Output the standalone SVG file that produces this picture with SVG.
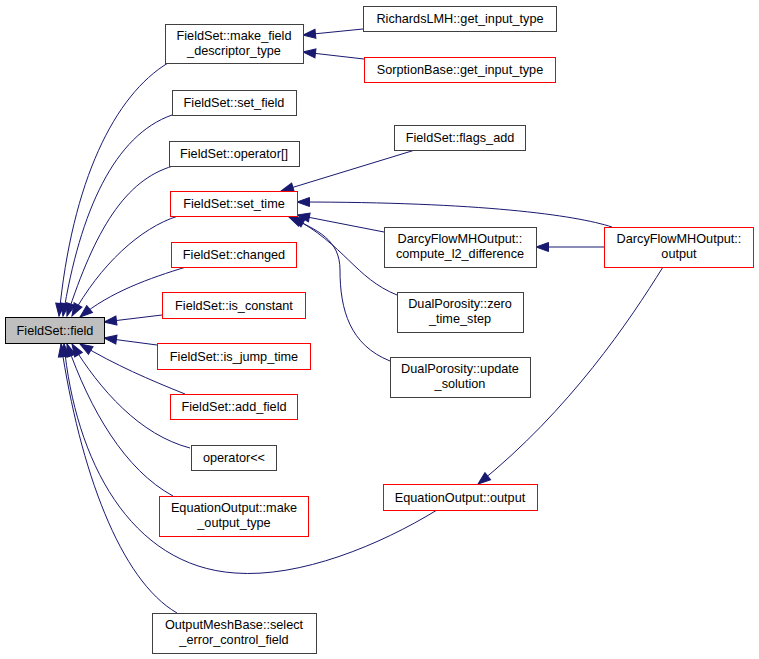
<svg xmlns="http://www.w3.org/2000/svg" width="759" height="659" viewBox="0 0 759 659">
<style>
.n rect{fill:#ffffff;stroke:#404040;stroke-width:1}
.n.r rect{stroke:#ff0000}
.n.h rect{fill:#bfbfbf;stroke:#000000}
.n text{font-family:"Liberation Sans",Arial,Helvetica,sans-serif;font-size:12.7px;fill:#000000;text-anchor:middle}
#edges path{fill:none;stroke:#191970;stroke-width:1;marker-end:url(#arr)}
</style>
<defs>
<marker id="arr" markerUnits="userSpaceOnUse" markerWidth="16" markerHeight="12" refX="13" refY="5.5" orient="auto" overflow="visible">
<path d="M0.5,1 L13,5.5 L0.5,10 z" fill="#191970" stroke="#191970" stroke-width="1"/>
</marker>
</defs>
<rect x="0" y="0" width="759" height="659" fill="#ffffff"/>
<g id="edges">
<path d="M168,63 C115,95 72,180 59,316"/>
<path d="M172,115 C115,135 80,210 63,316"/>
<path d="M173,166 C125,180 95,230 67,316"/>
<path d="M178,216 C140,228 100,265 72,316"/>
<path d="M186,267 C150,278 110,292 80,317"/>
<path d="M162,315 L104,322"/>
<path d="M157,345 L104,338"/>
<path d="M185,394 C150,380 115,365 80,344"/>
<path d="M190,448 C140,435 100,390 72,344"/>
<path d="M173,496 C125,470 90,410 67,344"/>
<path d="M437,510 C380,545 300,578 235,573 C130,566 75,460 64,344"/>
<path d="M177,613 C120,580 80,470 61,344"/>
<path d="M363,29 L303,35"/>
<path d="M364,59 L303,52"/>
<path d="M415,150 L281,191"/>
<path d="M612,227 C575,215 480,202 297,202"/>
<path d="M384,232 L297,215"/>
<path d="M397,295 C355,278 345,245 292,217"/>
<path d="M390,361 C350,345 340,310 340,270 C340,240 318,230 289,217"/>
<path d="M604,247 L536,247"/>
<path d="M663,267 C630,320 570,410 478,484"/>
</g>
<g id="field" class="n h"><rect x="5.5" y="317.5" width="99" height="26"/><text x="55" y="335">FieldSet::field</text></g>
<g id="make_field_descriptor_type" class="n"><rect x="165.5" y="24.5" width="138" height="39"/><text x="234" y="39.5">FieldSet::make_field</text><text x="234" y="54.5">_descriptor_type</text></g>
<g id="set_field" class="n"><rect x="172.5" y="90.5" width="124" height="25"/><text x="234" y="107">FieldSet::set_field</text></g>
<g id="operator_index" class="n"><rect x="169.5" y="141.5" width="130" height="25"/><text x="234" y="158">FieldSet::operator[]</text></g>
<g id="set_time" class="n r"><rect x="170.5" y="191.5" width="127" height="25"/><text x="234" y="208">FieldSet::set_time</text></g>
<g id="changed" class="n r"><rect x="171.5" y="242.5" width="125" height="25"/><text x="234" y="259">FieldSet::changed</text></g>
<g id="is_constant" class="n r"><rect x="162.5" y="292.5" width="143" height="26"/><text x="234" y="310">FieldSet::is_constant</text></g>
<g id="is_jump_time" class="n r"><rect x="157.5" y="343.5" width="153" height="26"/><text x="234" y="361">FieldSet::is_jump_time</text></g>
<g id="add_field" class="n r"><rect x="170.5" y="394.5" width="127" height="25"/><text x="234" y="411">FieldSet::add_field</text></g>
<g id="operator_out" class="n"><rect x="191.5" y="445.5" width="85" height="25"/><text x="234" y="462">operator&lt;&lt;</text></g>
<g id="make_output_type" class="n r"><rect x="159.5" y="496.5" width="149" height="40"/><text x="234" y="512">EquationOutput::make</text><text x="234" y="527">_output_type</text></g>
<g id="select_error_control_field" class="n"><rect x="152.5" y="613.5" width="164" height="40"/><text x="234" y="629">OutputMeshBase::select</text><text x="234" y="644">_error_control_field</text></g>
<g id="richards_get_input_type" class="n"><rect x="363.5" y="6.5" width="193" height="25"/><text x="460" y="23">RichardsLMH::get_input_type</text></g>
<g id="sorption_get_input_type" class="n r"><rect x="364.5" y="57.5" width="191" height="25"/><text x="460" y="74">SorptionBase::get_input_type</text></g>
<g id="flags_add" class="n"><rect x="394.5" y="125.5" width="131" height="25"/><text x="460" y="142">FieldSet::flags_add</text></g>
<g id="compute_l2_difference" class="n"><rect x="384.5" y="227.5" width="152" height="40"/><text x="460" y="243">DarcyFlowMHOutput::</text><text x="460" y="258">compute_l2_difference</text></g>
<g id="darcy_output" class="n r"><rect x="604.5" y="227.5" width="149" height="40"/><text x="679" y="243">DarcyFlowMHOutput::</text><text x="679" y="258">output</text></g>
<g id="zero_time_step" class="n"><rect x="397.5" y="292.5" width="126" height="40"/><text x="460" y="308">DualPorosity::zero</text><text x="460" y="323">_time_step</text></g>
<g id="update_solution" class="n"><rect x="390.5" y="357.5" width="140" height="40"/><text x="460" y="373">DualPorosity::update</text><text x="460" y="388">_solution</text></g>
<g id="equation_output" class="n r"><rect x="383.5" y="484.5" width="154" height="26"/><text x="460" y="502">EquationOutput::output</text></g>
</svg>
